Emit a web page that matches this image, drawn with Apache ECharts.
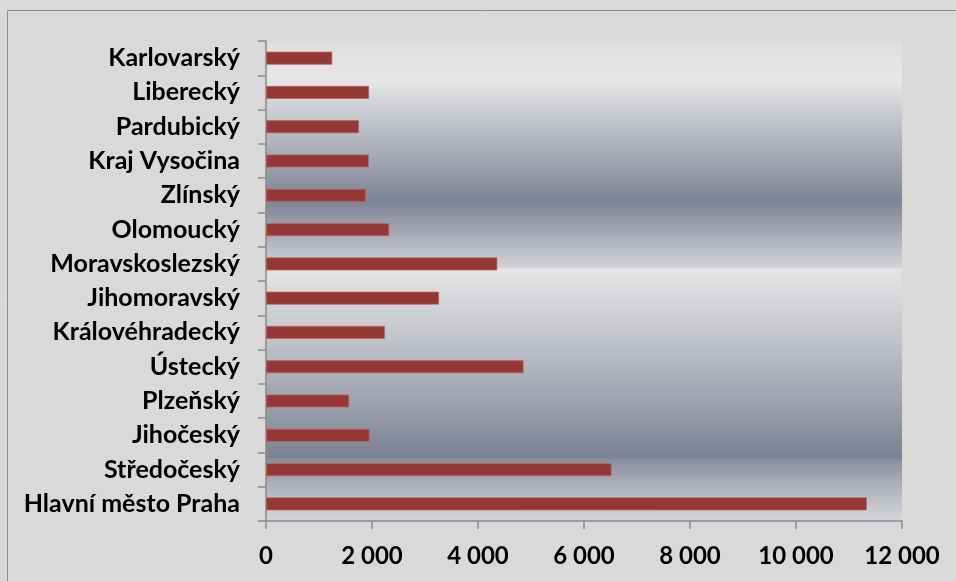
<!DOCTYPE html>
<html>
<head>
<meta charset="utf-8">
<script src="https://cdn.jsdelivr.net/npm/echarts@6/dist/echarts.min.js"></script>
<style>
html,body{margin:0;padding:0;background:#d9d9d9;}
#chart{width:956px;height:581px;}
</style>
</head>
<body>
<div id="chart"></div>
<script>
// Categories listed bottom to top
const categories = [
  'Hlavní město Praha', 'Středočeský', 'Jihočeský', 'Plzeňský', 'Ústecký',
  'Královéhradecký', 'Jihomoravský', 'Moravskoslezský', 'Olomoucký', 'Zlínský',
  'Kraj Vysočina', 'Pardubický', 'Liberecký', 'Karlovarský'
];
const values = [11335, 6520, 1955, 1570, 4860, 2245, 3265, 4365, 2325, 1885, 1940, 1755, 1945, 1250];
const xTicks = [0, 2000, 4000, 6000, 8000, 10000, 12000];

const chart = echarts.init(document.getElementById('chart'));
const font = 'Lato, "Open Sans", sans-serif';
const bg = new echarts.graphic.LinearGradient(0, 0, 0, 1, [
  {offset: 0, color: '#dedede'},
  {offset: 0.081, color: '#e7e7e7'},
  {offset: 0.185, color: '#babdc5'},
  {offset: 0.258, color: '#9ea2af'},
  {offset: 0.333, color: '#7e8397'},
  {offset: 0.394, color: '#a2a5b2'},
  {offset: 0.45, color: '#c6c7cd'},
  {offset: 0.471, color: '#d2d3d7'},
  {offset: 0.475, color: '#e5e5e5'},
  {offset: 0.627, color: '#c0c2c9'},
  {offset: 0.765, color: '#9a9eab'},
  {offset: 0.867, color: '#7b8194'},
  {offset: 0.873, color: '#8a8fa0'},
  {offset: 0.917, color: '#a8abb6'},
  {offset: 0.96, color: '#c0c2c9'},
  {offset: 1, color: '#d4d5d9'}
]);

chart.setOption({
  backgroundColor: '#d9d9d9',
  animation: false,
  graphic: [{
    type: 'rect',
    shape: {x: 7.5, y: 10.5, width: 1000, height: 1000},
    style: {fill: 'none', stroke: '#8c8c8c', lineWidth: 1},
    silent: true
  }],
  grid: {
    left: 266, right: 54, top: 41, bottom: 60,
    show: true, borderWidth: 0, backgroundColor: bg
  },
  xAxis: {
    type: 'value',
    min: xTicks[0], max: xTicks[xTicks.length - 1], interval: xTicks[1] - xTicks[0],
    splitLine: {show: false},
    axisLine: {show: true, lineStyle: {color: '#8a8a8a', width: 1.5}},
    axisTick: {show: true, length: 8, lineStyle: {color: '#8a8a8a', width: 1.5}},
    axisLabel: {
      margin: 23, color: '#000', fontFamily: font, fontWeight: 'bold', fontSize: 24,
      formatter: v => String(v).replace(/\B(?=(\d{3})+(?!\d))/g, ' ')
    }
  },
  yAxis: {
    type: 'category',
    data: categories,
    axisLine: {show: true, lineStyle: {color: '#8a8a8a', width: 1.5}},
    axisTick: {show: true, length: 8, lineStyle: {color: '#8a8a8a', width: 1.5}},
    axisLabel: {margin: 26, color: '#000', fontFamily: font, fontWeight: 'bold', fontSize: 25}
  },
  series: [{
    type: 'bar',
    data: values,
    barWidth: 13,
    itemStyle: {color: '#953735', borderColor: '#b86866', borderWidth: 0.8}
  }]
});
</script>
</body>
</html>
